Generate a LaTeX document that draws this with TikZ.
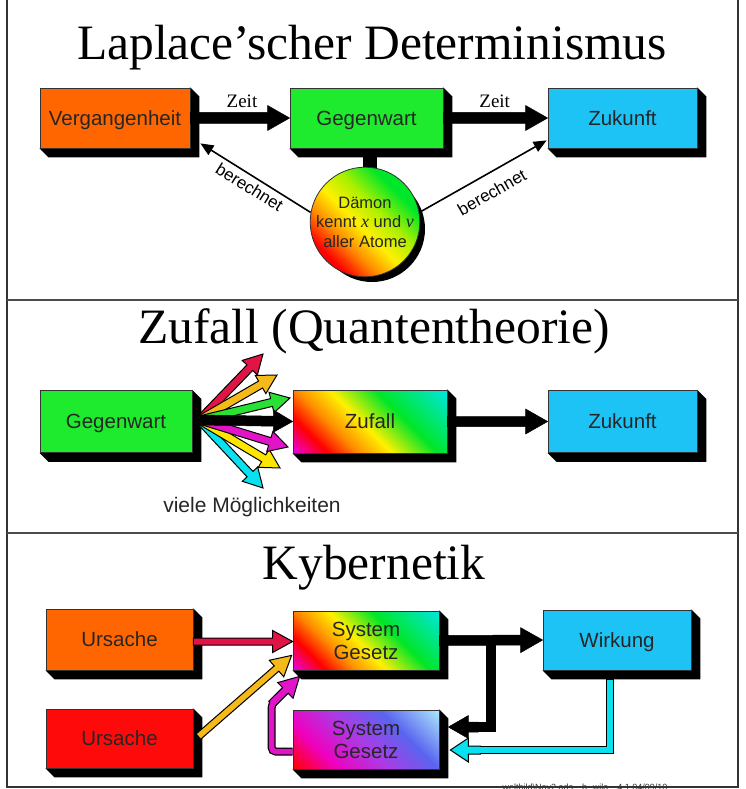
\documentclass[tikz,border=0pt]{standalone}
\usepackage{fontspec}
\setmainfont{Liberation Serif}
\setsansfont{Liberation Sans}
\usetikzlibrary{calc,arrows.meta,backgrounds}

% box fills
\definecolor{cOrange}{RGB}{255,102,0}
\definecolor{cGreen}{RGB}{30,235,45}
\definecolor{cBlue}{RGB}{30,195,245}
\definecolor{cRed}{RGB}{255,10,10}
% arrow fills
\definecolor{aRed}{RGB}{225,20,70}
\definecolor{aGold}{RGB}{245,185,25}
\definecolor{aGreen}{RGB}{40,225,50}
\definecolor{aMag}{RGB}{225,20,200}
\definecolor{aYel}{RGB}{255,230,0}
\definecolor{aCyan}{RGB}{10,225,240}
% shading colours
\definecolor{sMag}{RGB}{235,0,220}
\definecolor{sRed}{RGB}{255,0,0}
\definecolor{sOrange}{RGB}{255,140,0}
\definecolor{sYellow}{RGB}{255,240,0}
\definecolor{sLime}{RGB}{170,240,0}
\definecolor{sGreen}{RGB}{0,230,40}
\definecolor{sCyan}{RGB}{0,230,220}
\definecolor{sPink}{RGB}{240,0,190}
\definecolor{sPurple}{RGB}{170,60,230}
\definecolor{sBlue}{RGB}{90,100,240}
\definecolor{sLight}{RGB}{170,230,250}

\pgfdeclarehorizontalshading{daemonshade}{100bp}{color(0bp)=(sRed); color(27bp)=(sRed);
  color(37bp)=(sOrange); color(47bp)=(sYellow); color(58bp)=(sLime); color(70bp)=(sGreen);
  color(100bp)=(sGreen)}
\pgfdeclarehorizontalshading{rainbowA}{100bp}{color(0bp)=(sMag); color(15bp)=(sMag);
  color(26bp)=(sRed); color(36bp)=(sOrange); color(47bp)=(sYellow); color(62bp)=(sGreen);
  color(85bp)=(sCyan); color(100bp)=(sCyan)}
\pgfdeclarehorizontalshading{rainbowB}{100bp}{color(0bp)=(sRed); color(15bp)=(sRed);
  color(30bp)=(sPink); color(48bp)=(sPurple); color(65bp)=(sBlue); color(85bp)=(sLight);
  color(100bp)=(sLight)}

% block arrow as a polygon: style, tail, tip, half shaft width, half head width, head length
\newcommand\fatarrow[6]{%
  \coordinate (fab) at ($(#3)!#6!(#2)$);
  \draw[#1] ($(#2)!#4!90:(#3)$) -- ($(fab)!#4!90:(#3)$) -- ($(fab)!#5!90:(#3)$) -- (#3)
    -- ($(fab)!#5!-90:(#3)$) -- ($(fab)!#4!-90:(#3)$) -- ($(#2)!#4!-90:(#3)$) -- cycle;}

% black extrusion below and right of a box
\newcommand\extrude[2][9pt]{%
  \fill[black] (#2.north east) -- ([xshift=#1,yshift=-#1]#2.north east)
    -- ([xshift=#1,yshift=-#1]#2.south east) -- ([xshift=#1,yshift=-#1]#2.south west)
    -- (#2.south west) -- cycle;}

\begin{document}
\begin{tikzpicture}[x=1pt,y=-1pt,
  box/.style={draw=black!80, line width=.8pt, inner sep=0pt, align=center,
    font=\sffamily\fontsize{20.5}{23}\selectfont, text=black!85},
  oneline/.style={text height=14.5pt, text depth=0pt},
  title/.style={anchor=base, font=\rmfamily\fontsize{49.5}{50}\selectfont},
  zeit/.style={font=\rmfamily\fontsize{19}{19}\selectfont, inner sep=1pt},
  lbl/.style={font=\sffamily\fontsize{17}{17}\selectfont, inner sep=1pt},
  blk/.style={fill=black, draw=black, line width=.5pt},
  col/.style={fill=#1, draw=black, line width=1pt, line join=miter},
  thinarrow/.style={line width=1.6pt, -{Triangle[length=13pt,width=11pt]}},
  frameline/.style={line width=1.3pt, black!80},
  sepline/.style={line width=1.8pt, black!70}]
\useasboundingbox (0,0) rectangle (745,789);

% frame and section rules
\draw[frameline] (7,0) -- (7,787) -- (738,787) -- (738,0);
\draw[sepline] (7,300) -- (738,300);
\draw[sepline] (7,533) -- (738,533);

% titles
\node[title] (t1) at (372,60) {Laplace'scher Determinismus};
\node[title] (t2) at (374,343) {Zufall (Quantentheorie)};
\node[title] (t3) at (374,579) {Kybernetik};

% ---- Laplace ----
\node[box, oneline, fill=cOrange, minimum width=150pt, minimum height=60pt] (verg) at (115,118) {Vergangenheit};
\node[box, oneline, fill=cGreen, minimum width=153pt, minimum height=60pt] (geg1) at (366.5,118) {Gegenwart};
\node[box, oneline, fill=cBlue, minimum width=149pt, minimum height=60pt] (zuk1) at (622.5,118) {Zukunft};
\node[circle, draw=black!80, line width=.8pt, minimum size=106pt, inner sep=0pt,
  shading=daemonshade, shade, shading angle=45, align=center, text=black!85,
  font=\sffamily\fontsize{16.5}{19.5}\selectfont] (daemon) at (365,222)
  {Dämon\\kennt {\rmfamily\itshape\fontsize{18}{19.5}\selectfont x} und {\rmfamily\itshape\fontsize{18}{19.5}\selectfont v}\\aller Atome};

% ---- Zufall ----
\node[box, oneline, fill=cGreen, minimum width=152pt, minimum height=62pt] (geg2) at (116,421.5) {Gegenwart};
\node[box, oneline, shading=rainbowA, shade, shading angle=45, minimum width=154pt, minimum height=63pt] (zuf) at (370,421.5) {Zufall};
\node[box, oneline, fill=cBlue, minimum width=149pt, minimum height=62pt] (zuk2) at (622.5,421.5) {Zukunft};
\node[font=\sffamily\fontsize{21}{23}\selectfont, text=black!85] (viele) at (252,507) {viele Möglichkeiten};

% ---- Kybernetik ----
\node[box, oneline, fill=cOrange, minimum width=147pt, minimum height=61pt] (urs1) at (119.5,639.5) {Ursache};
\node[box, oneline, fill=cRed, minimum width=147pt, minimum height=59pt] (urs2) at (119.5,738.5) {Ursache};
\node[box, shading=rainbowA, shade, shading angle=45, minimum width=146pt, minimum height=59pt] (sg1) at (366,640.5) {System\\Gesetz};
\node[box, shading=rainbowB, shade, shading angle=45, minimum width=146pt, minimum height=59pt] (sg2) at (366,739.5) {System\\Gesetz};
\node[box, oneline, fill=cBlue, minimum width=148pt, minimum height=60pt] (wirk) at (617,640) {Wirkung};

% extrusions and the stem under the present
\begin{scope}[on background layer]
  \foreach \n in {verg,geg1,zuk1,geg2,zuf,zuk2,urs1,urs2,sg1,sg2,wirk} {\extrude{\n}}
  \fill[black] ([xshift=7pt,yshift=-7pt]daemon.center) circle (53pt);
  \draw[line width=14pt] ([xshift=3pt]geg1.south) -- ([xshift=3pt]geg1.south |- daemon.center);
\end{scope}

% time arrows
\fatarrow{blk}{verg.east}{geg1.west}{5.5pt}{12.5pt}{22pt}
\fatarrow{blk}{geg1.east}{zuk1.west}{5.5pt}{12.5pt}{22pt}
\path (verg.east) -- node[pos=0.52, above=9pt, zeit] (zeit1) {Zeit} (geg1.west);
\path ([xshift=8pt]geg1.east) -- node[pos=0.45, above=9pt, zeit] (zeit2) {Zeit} (zuk1.west);

% computed by the demon
\coordinate (vtip) at ([xshift=10pt,yshift=5pt]verg.south east);
\coordinate (ztip) at ([xshift=-1pt,yshift=8pt]zuk1.south west);
\draw[thinarrow] (daemon.170) -- node[below=3pt, sloped, lbl] (ber1) {berechnet} (vtip);
\draw[thinarrow] (daemon.10) -- node[below=10pt, sloped, lbl] (ber2) {berechnet} (ztip);

% fan of possibilities
\coordinate (fan0) at ([xshift=7pt,yshift=1.5pt]geg2.east);
\coordinate (f1) at (263,354);
\coordinate (f2) at (277,375);
\coordinate (f3) at (290,398);
\coordinate (f5) at (288,447);
\coordinate (f6) at (280,468);
\coordinate (f7) at (263,488);
\fatarrow{col=aCyan}{fan0}{f7}{4pt}{10.5pt}{19pt}
\fatarrow{col=aYel}{fan0}{f6}{4pt}{10.5pt}{19pt}
\fatarrow{col=aMag}{fan0}{f5}{4pt}{10.5pt}{19pt}
\fatarrow{col=aRed}{fan0}{f1}{4pt}{10.5pt}{19pt}
\fatarrow{col=aGold}{fan0}{f2}{4pt}{10.5pt}{19pt}
\fatarrow{col=aGreen}{fan0}{f3}{4pt}{10.5pt}{19pt}
\fatarrow{blk}{fan0}{zuf.west}{5pt}{11pt}{19pt}
\fatarrow{blk}{zuf.east}{zuk2.west}{5pt}{12.5pt}{22pt}

% causes into the system law
\coordinate (r0) at ([yshift=-2pt]urs1.east);
\coordinate (r1) at ([yshift=-1pt]sg1.west);
\fatarrow{col=aRed}{r0}{r1}{3.5pt}{11pt}{20pt}
\coordinate (g0) at ([xshift=5pt,yshift=-28pt]urs2.north east);
\coordinate (g1) at ([xshift=-1pt,yshift=15pt]sg1.south west);
\fatarrow{col=aGold}{g0}{g1}{3.5pt}{11pt}{20pt}

% effect and feedback
\fatarrow{blk}{sg1.east}{wirk.west}{5pt}{12.5pt}{22pt}
\coordinate (bj) at ($(sg1.east)!0.5!(wirk.west)$);
\coordinate (bt) at ([xshift=9pt,yshift=12.5pt]sg2.east);
\coordinate (bs) at ($(bt)+(30,0)$);
\draw[line width=10pt, line join=miter] (bj) -- (bj |- bt) -- (bs);
\fatarrow{blk}{bs}{bt}{5pt}{11.5pt}{20pt}

% feedback from the effect
\coordinate (c0) at ([xshift=-7pt,yshift=-9pt]wirk.south);
\coordinate (ct) at ([xshift=11pt,yshift=-10.5pt]sg2.east);
\coordinate (c1) at (c0 |- ct);
\coordinate (cs) at ($(ct)+(30,0)$);
\draw[line width=8pt, line join=miter] (c0) -- (c1) -- (cs);
\fatarrow{col=aCyan}{cs}{ct}{4pt}{12pt}{18pt}
\draw[line width=5.5pt, aCyan, line join=miter] ([yshift=-1pt]c0) -- (c1) -- ([xshift=-6pt]cs);

% second law feeding back into the first
\coordinate (m0) at ([yshift=-12pt]sg2.west);
\coordinate (m1) at ([xshift=-21pt]m0);
\coordinate (mt) at ([xshift=7pt,yshift=-6pt]sg1.south west);
\coordinate (m2) at (m1 |- 0,704);
\coordinate (mm) at ($(m2)!0.55!(mt)$);
\draw[line width=8pt, rounded corners=4pt] (m0) -- (m1) -- (m2) -- (mm);
\fatarrow{col=aMag}{m2}{mt}{4pt}{11pt}{20pt}
\draw[line width=5.5pt, aMag, rounded corners=4pt] (m0) -- (m1) -- (m2) -- (mm);

% file tag
\node[anchor=base, font=\sffamily\fontsize{9}{9}\selectfont, text=black!80] (tag) at (585,790)
  {weltbild\textbackslash Nov2.ads\quad b. wila\quad 4.1.04/09/10};
\end{tikzpicture}
\end{document}
